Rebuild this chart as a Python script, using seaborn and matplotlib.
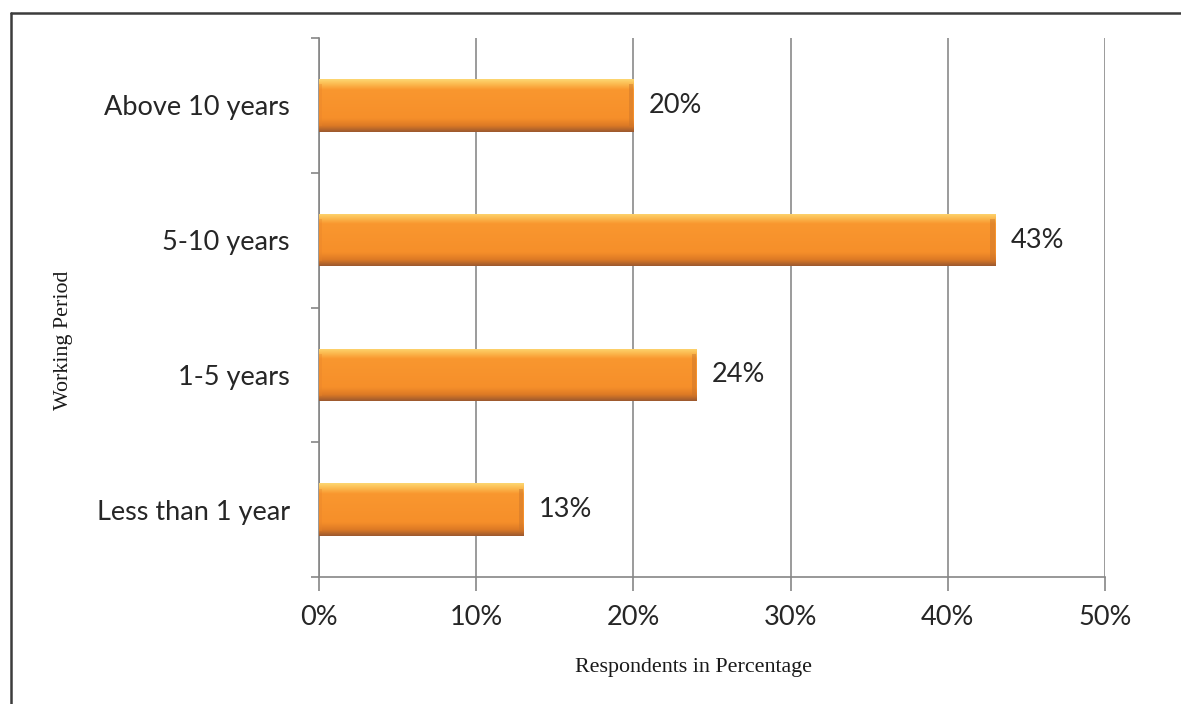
import numpy as np
import pandas as pd
import matplotlib
matplotlib.use("Agg")
import matplotlib.pyplot as plt
from matplotlib.colors import LinearSegmentedColormap
from matplotlib.lines import Line2D
import seaborn as sns

# Working period of respondents (share in percent)
periods = ["Above 10 years", "5-10 years", "1-5 years", "Less than 1 year"]
shares = [20, 43, 24, 13]
x_ticks = [0, 10, 20, 30, 40, 50]
x_tick_labels = ["0%", "10%", "20%", "30%", "40%", "50%"]

df = pd.DataFrame({"period": periods, "share": shares})

sns.set_theme(style="white")
plt.rcParams["font.family"] = ["Lato", "DejaVu Sans"]

TEXT_SIZE = 19.5

fig = plt.figure(figsize=(11.81, 7.04), dpi=100)
ax = fig.add_axes([0.2701, 0.1804, 0.6656, 0.7656])

sns.barplot(data=df, x="share", y="period", order=periods, orient="h",
            color="#F7922A", width=0.39, ax=ax, zorder=3, edgecolor="none")

# vertical gradient for a bevelled bar look
bar_cmap = LinearSegmentedColormap.from_list(
    "bevel",
    [(0.0, "#FDD873"), (0.08, "#FCBF55"), (0.20, "#F9972F"),
     (0.74, "#F68F2A"), (0.88, "#DD7A25"), (1.0, "#9A582F")])
grad = np.linspace(0, 1, 256).reshape(-1, 1)
for patch in ax.patches:
    x0, y0 = patch.get_x(), patch.get_y()
    w, h = patch.get_width(), patch.get_height()
    im = ax.imshow(grad, cmap=bar_cmap, aspect="auto",
                   extent=[x0, x0 + w, y0 + h, y0], zorder=4,
                   interpolation="bicubic")
    im.set_clip_path(patch)
    # darker bevelled end caps
    ax.fill_between([x0 + w - 0.3, x0 + w], y0 + h * 0.1, y0 + h * 0.9,
                    color="#C8732B", alpha=0.45, zorder=5, linewidth=0)
    ax.fill_between([x0, x0 + 0.2], y0 + h * 0.1, y0 + h * 0.9,
                    color="#E8832A", alpha=0.35, zorder=5, linewidth=0)
    ax.text(x0 + w + 1.0, y0 + h / 2, f"{w:.0f}%", ha="left", va="center",
            fontsize=TEXT_SIZE, color="#262626", zorder=6)

ax.set_xlim(0, 50)
ax.set_ylim(len(periods) - 0.5, -0.5)
ax.set_xticks(x_ticks)
ax.set_xticklabels(x_tick_labels, fontsize=TEXT_SIZE, color="#262626")
ax.tick_params(axis="x", direction="out", length=10, width=1.2,
               color="#868686", pad=10, bottom=True)
ax.set_yticks(range(len(periods)))
ax.set_yticklabels(periods, fontsize=TEXT_SIZE, color="#262626")
ax.set_yticks(np.arange(-0.5, len(periods)), minor=True)
ax.tick_params(axis="y", which="major", length=0, pad=21)
ax.tick_params(axis="y", which="minor", direction="out", length=6,
               width=1.2, color="#868686", left=True)

ax.grid(axis="x", color="#8A8A8A", linewidth=1.2, zorder=0)
ax.grid(axis="y", visible=False)
ax.set_axisbelow(True)
for side in ("top", "right"):
    ax.spines[side].set_visible(False)
for side in ("left", "bottom"):
    ax.spines[side].set_color("#868686")
    ax.spines[side].set_linewidth(1.2)

ax.set_xlabel("Respondents in Percentage", family="Liberation Serif",
              fontsize=15.8, color="#1a1a1a")
ax.set_ylabel("Working Period", family="Liberation Serif",
              fontsize=15.8, color="#1a1a1a")
ax.xaxis.set_label_coords(0.476, -0.15)
ax.yaxis.set_label_coords(-0.313, 0.44)

# outer frame (top and left edges)
fig.add_artist(Line2D([11 / 1181, 11 / 1181], [0, 1 - 13 / 704],
                      transform=fig.transFigure, color="#3c3c3c", linewidth=1.8))
fig.add_artist(Line2D([11 / 1181, 1], [1 - 13 / 704, 1 - 13 / 704],
                      transform=fig.transFigure, color="#3c3c3c", linewidth=1.8))

fig.savefig("out.png", dpi=100, facecolor="white")
